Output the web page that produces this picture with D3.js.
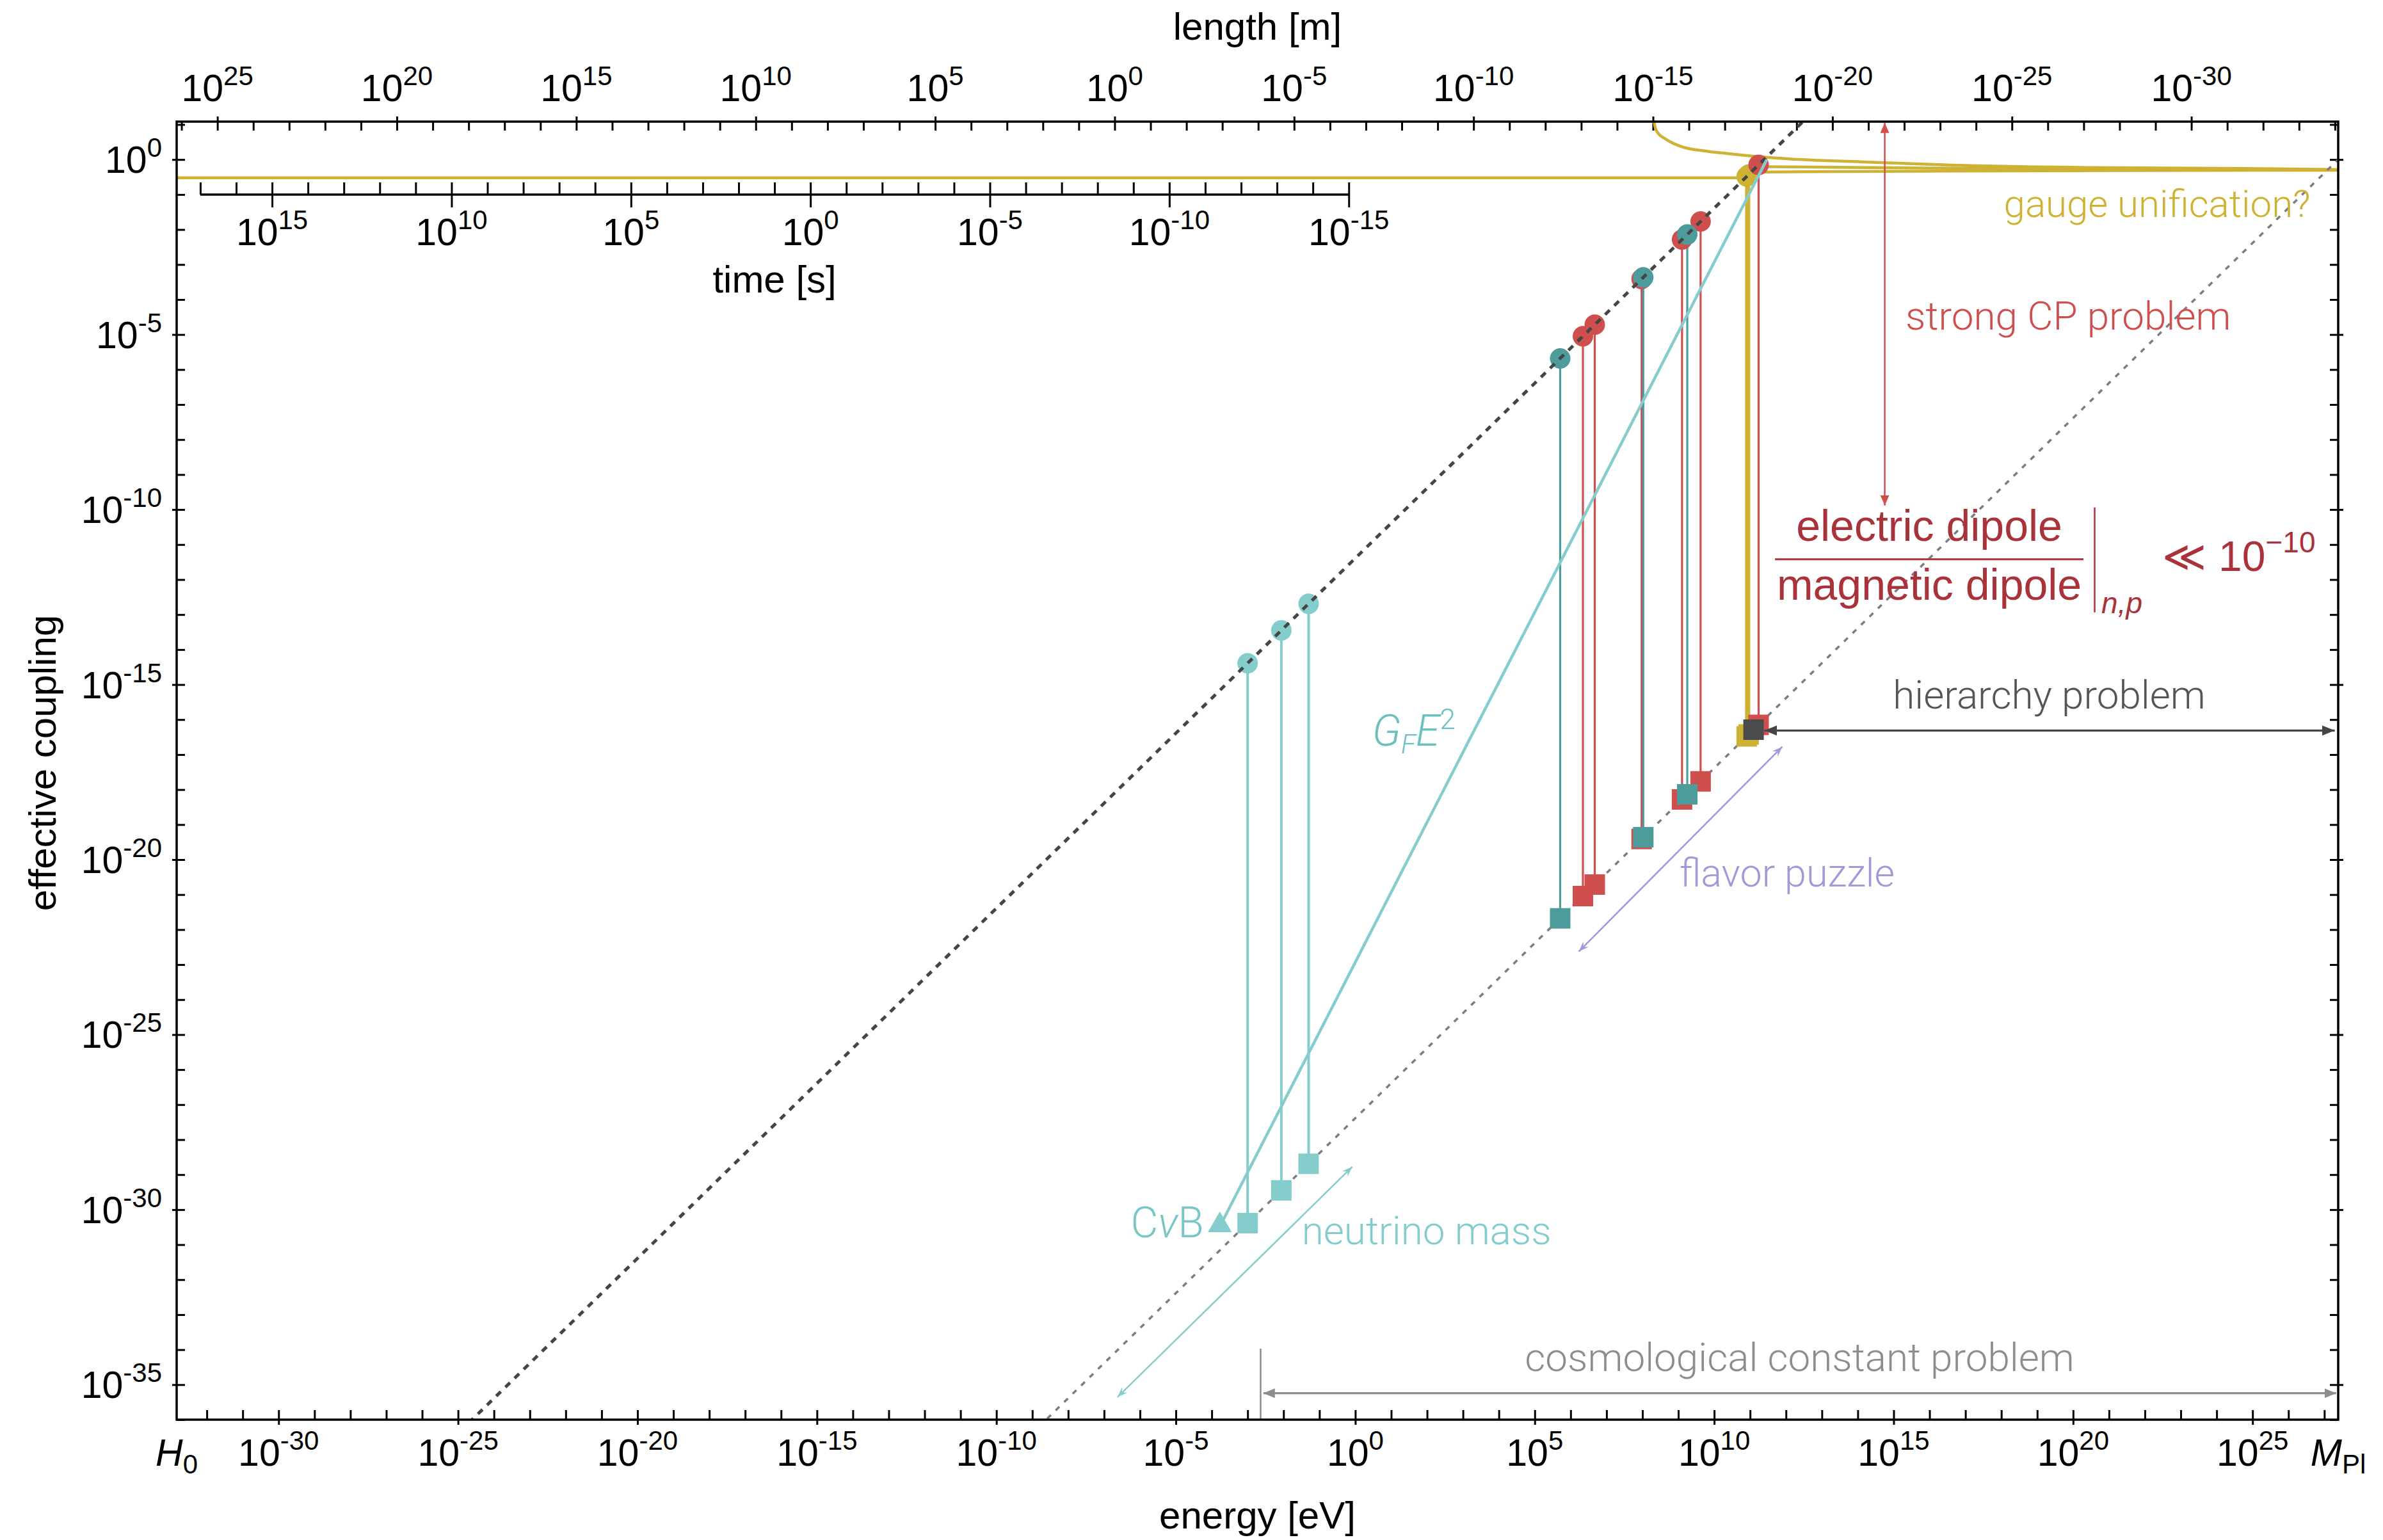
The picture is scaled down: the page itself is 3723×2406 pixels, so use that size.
<!DOCTYPE html>
<html>
<head>
<meta charset="utf-8">
<script src="https://cdn.jsdelivr.net/npm/d3@7"></script>
<style>
  html, body { margin: 0; padding: 0; background: #fff; }
  svg { display: block; }
</style>
</head>
<body>
<svg id="chart" width="3723" height="2406"></svg>
<script>
// ---------- physical constants (eV units) ----------
const HBARC = 1.97327e-7;      // eV·m
const HBAR = 6.58212e-16;      // eV·s
const E_MIN = 1.445e-33;       // H0 [eV]
const E_MAX = 2.435e27;        // reduced Planck mass [eV]
const G_MIN = 1e-36;
const G_MAX = 12.1;

// ---------- particles ----------
const particleNames  = ["W", "Z", "t", "u", "d", "s", "c", "b", "e", "μ", "τ", "ν1", "ν2", "ν3", "H"];
const particleGroups = ["boson", "boson", "quark", "quark", "quark", "quark", "quark", "quark",
                        "lepton", "lepton", "lepton", "neutrino", "neutrino", "neutrino", "higgs"];
const particleMasses = [8.04e10, 9.12e10, 1.727e11, 2.2e6, 4.7e6, 9.5e7, 1.27e9, 4.18e9,
                        5.11e5, 1.057e8, 1.777e9, 1.0e-3, 8.7e-3, 5.0e-2, 1.25e11];
// coupling at the electroweak scale (m / v) and at the Planck scale (m / M_Pl)
const electroweakCouplings = [0.327, 0.371, 0.702, 8.94e-6, 1.91e-5, 3.86e-4, 5.16e-3, 1.70e-2,
                              2.08e-6, 4.30e-4, 7.22e-3, 4.07e-15, 3.54e-14, 2.03e-13, null];
const planckCouplings = [3.30e-17, 3.75e-17, 7.09e-17, 9.03e-22, 1.93e-21, 3.90e-20, 5.22e-19, 1.72e-18,
                         2.10e-22, 4.34e-20, 7.30e-19, 4.11e-31, 3.57e-30, 2.05e-29, 5.13e-17];

// ---------- gauge couplings [energy eV, coupling] ----------
const couplingEM = [[1.445e-33, 0.30], [8.5e10, 0.30]];
const couplingStrong = [[2.09e8, 13.2], [2.24e8, 8.67], [2.64e8, 5.93], [4.32e8, 3.90], [1.36e9, 2.25],
                        [5.75e9, 1.75], [2.42e10, 1.48], [4.28e11, 1.12], [1.40e14, 0.855],
                        [4.39e16, 0.693], [2.49e20, 0.593], [1.41e24, 0.562], [2.435e27, 0.516]];
const couplingWeak = [[9.12e10, 0.63], [5.4e15, 0.574], [1.2e21, 0.538], [2.435e27, 0.506]];
const couplingHypercharge = [[9.12e10, 0.436], [5.4e15, 0.465], [1.2e21, 0.485], [2.435e27, 0.495]];

// reference lines: m / v and m / M_Pl
const vevLine = [[1e-27, 4.07e-39], [1e15, 4.07e3]];
const planckLine = [[1e-10, 4.1e-38], [2.435e27, 1.0]];
// Fermi interaction strength G_F E^2, from the neutrino background temperature up to G_F^{-1/2}
const fermiLine = [[1.68e-4, 3.3e-31], [2.93e11, 1.0]];
const cnuB = [1.68e-4, 3.3e-31];

// ---------- tick labels (exponents) ----------
const energyTickExps   = [-30, -25, -20, -15, -10, -5, 0, 5, 10, 15, 20, 25];
const lengthTickExps   = [25, 20, 15, 10, 5, 0, -5, -10, -15, -20, -25, -30];
const timeTickExps     = [15, 10, 5, 0, -5, -10, -15];
const couplingTickExps = [0, -5, -10, -15, -20, -25, -30, -35];

// ---------- layout ----------
const plot = { left: 276, right: 3653, top: 190, bottom: 2218 };
const timeAxisY = 304;
const AXIS_FONT = "'Liberation Sans', Arial, Helvetica, 'DejaVu Sans', sans-serif";
const NOTE_FONT = "Roboto, 'Open Sans', Lato, 'Liberation Sans', sans-serif";
const TICK_FS = 59;
const SUP_FS = 42;

const COLORS = {
  gold: "#cdb234", quark: "#cf4f4f", lepton: "#4e9b9b", neutrino: "#85cdcd",
  higgs: "#4b4b4b", lavender: "#a399d9", gray: "#8d8d8d", edm: "#a9323b",
  dark: "#454545", grayLine: "#7d7d7d"
};
const groupColor = g => ({ boson: COLORS.gold, quark: COLORS.quark, lepton: COLORS.lepton,
                           neutrino: COLORS.neutrino, higgs: COLORS.higgs })[g];

// ---------- scales ----------
const x = d3.scaleLog().domain([E_MIN, E_MAX]).range([plot.left, plot.right]);
const y = d3.scaleLog().domain([G_MIN, G_MAX]).range([plot.bottom, plot.top]);
const xLen = d3.scaleLog().domain([HBARC / E_MIN, HBARC / E_MAX]).range([plot.left, plot.right]);
const xTime = d3.scaleLog().domain([HBAR / E_MIN, HBAR / E_MAX]).range([plot.left, plot.right]);

const decades = (a, b) => d3.range(a, b + 1).map(k => Math.pow(10, k));
const pow10 = k => Math.pow(10, k);

const svg = d3.select("#chart");
const defs = svg.append("defs");
defs.append("clipPath").attr("id", "plotClip").append("rect")
  .attr("x", plot.left).attr("y", plot.top)
  .attr("width", plot.right - plot.left).attr("height", plot.bottom - plot.top);

function marker(id, color, len, half, concave) {
  defs.append("marker").attr("id", id)
    .attr("viewBox", `0 0 ${len} ${2 * half}`)
    .attr("refX", len).attr("refY", half)
    .attr("markerWidth", len).attr("markerHeight", 2 * half)
    .attr("markerUnits", "userSpaceOnUse")
    .attr("orient", "auto-start-reverse")
    .append("path")
    .attr("d", concave
      ? `M0,0 L${len},${half} L0,${2 * half} L${len * 0.35},${half} Z`
      : `M0,0 L${len},${half} L0,${2 * half} Z`)
    .attr("fill", color);
}
marker("arrRed", COLORS.quark, 16, 7, false);
marker("arrDark", COLORS.dark, 20, 8, false);
marker("arrGray", COLORS.gray, 18, 7.5, false);
marker("arrLav", COLORS.lavender, 16, 6, true);
marker("arrCyan", COLORS.neutrino, 16, 6, true);

// ---------- axes ticks ----------
function ticks(axisFn, scale, values, size, transform) {
  const g = svg.append("g").attr("transform", transform)
    .call(axisFn(scale).tickValues(values).tickSize(size).tickFormat(""));
  g.select(".domain").remove();
  g.selectAll(".tick line").attr("stroke", "#000").attr("stroke-width", 3);
  g.selectAll(".tick text").remove();
  return g;
}
const energyDecades = decades(-32, 27);
const couplingDecades = decades(-36, 1);
const lengthDecades = decades(-34, 26);
const timeDecades = decades(-15, 17);

ticks(d3.axisBottom, x, energyDecades, -15, `translate(0,${plot.bottom})`);
ticks(d3.axisBottom, x, energyTickExps.map(pow10), 8, `translate(0,${plot.bottom})`);
ticks(d3.axisTop, xLen, lengthDecades, -14, `translate(0,${plot.top})`);
ticks(d3.axisTop, xLen, lengthTickExps.map(pow10), 8, `translate(0,${plot.top})`);
ticks(d3.axisLeft, y, couplingDecades, -13, `translate(${plot.left},0)`);
ticks(d3.axisLeft, y, couplingTickExps.map(pow10), 7, `translate(${plot.left},0)`);
ticks(d3.axisRight, y, couplingDecades, -13, `translate(${plot.right},0)`);
ticks(d3.axisRight, y, couplingTickExps.map(pow10), 8, `translate(${plot.right},0)`);

// inner time axis
svg.append("line")
  .attr("x1", xTime(1e17)).attr("x2", xTime(1e-15))
  .attr("y1", timeAxisY).attr("y2", timeAxisY)
  .attr("stroke", "#000").attr("stroke-width", 3.5);
ticks(d3.axisTop, xTime, timeDecades, 19, `translate(0,${timeAxisY})`);
ticks(d3.axisBottom, xTime, timeTickExps.map(pow10), 20, `translate(0,${timeAxisY})`);

// ---------- tick labels ----------
function powLabel(px, py, exp, anchor) {
  const t = svg.append("text").attr("x", px).attr("y", py)
    .attr("text-anchor", anchor).attr("font-family", AXIS_FONT)
    .attr("font-size", TICK_FS).attr("fill", "#000");
  t.append("tspan").text("10");
  t.append("tspan").attr("dy", -25).attr("font-size", SUP_FS)
    .text(exp < 0 ? "-" + (-exp) : String(exp));
}
energyTickExps.forEach(k => powLabel(x(pow10(k)), 2290, k, "middle"));
lengthTickExps.forEach(k => powLabel(xLen(pow10(k)), 158, k, "middle"));
timeTickExps.forEach(k => powLabel(xTime(pow10(k)), 383, k, "middle"));
couplingTickExps.forEach(k => powLabel(253, y(pow10(k)) + 21, k, "end"));

// H0 and M_Pl at the ends of the energy axis
{
  const h = svg.append("text").attr("x", x(E_MIN)).attr("y", 2290).attr("text-anchor", "middle")
    .attr("font-family", AXIS_FONT).attr("font-size", TICK_FS);
  h.append("tspan").attr("font-style", "italic").text("H");
  h.append("tspan").attr("dy", 12).attr("font-size", SUP_FS).text("0");
  const m = svg.append("text").attr("x", x(E_MAX)).attr("y", 2290).attr("text-anchor", "middle")
    .attr("font-family", AXIS_FONT).attr("font-size", TICK_FS);
  m.append("tspan").attr("font-style", "italic").text("M");
  m.append("tspan").attr("dy", 12).attr("font-size", SUP_FS).text("Pl");
}

// axis titles
function title(txt, px, py, rotate) {
  const t = svg.append("text").attr("text-anchor", "middle")
    .attr("font-family", AXIS_FONT).attr("font-size", 60).attr("fill", "#000").text(txt);
  if (rotate) t.attr("transform", `translate(${px},${py}) rotate(-90)`);
  else t.attr("x", px).attr("y", py);
}
const midX = (plot.left + plot.right) / 2;
title("length [m]", midX, 62);
title("energy [eV]", midX, 2388);
title("time [s]", (xTime(1e17) + xTime(1e-15)) / 2, 457);
title("effective coupling", 87, 1192, true);

// ---------- plot content ----------
const body = svg.append("g").attr("clip-path", "url(#plotClip)");
const line = d3.line().x(d => x(d[0])).y(d => y(d[1]));
const smooth = d3.line().x(d => x(d[0])).y(d => y(d[1])).curve(d3.curveMonotoneX);

// gauge couplings
[couplingEM, couplingHypercharge, couplingWeak, couplingStrong].forEach(c => {
  body.append("path").attr("d", smooth(c)).attr("fill", "none")
    .attr("stroke", COLORS.gold).attr("stroke-width", 4.5);
});

// m / M_Pl reference line
body.append("path").attr("d", line(planckLine)).attr("fill", "none")
  .attr("stroke", COLORS.grayLine).attr("stroke-width", 3.5).attr("stroke-dasharray", "8 10.5");

const particles = particleNames.map((n, i) => ({
  name: n, group: particleGroups[i], mass: particleMasses[i],
  gv: electroweakCouplings[i], gp: planckCouplings[i]
}));
const stemWidth = g => g === "boson" ? 5 : (g === "neutrino" ? 4 : 3.2);

// stems from the electroweak value down to the Planck value
body.selectAll(".stem").data(particles.filter(p => p.gv !== null)).join("line")
  .attr("class", "stem")
  .attr("x1", p => x(p.mass)).attr("x2", p => x(p.mass))
  .attr("y1", p => y(p.gv)).attr("y2", p => y(p.gp))
  .attr("stroke", p => groupColor(p.group)).attr("stroke-width", p => stemWidth(p.group));

// squares at m / M_Pl
const squareSym = d3.symbol().type(d3.symbolSquare).size(32 * 32);
body.selectAll(".sq").data(particles).join("path")
  .attr("class", "sq")
  .attr("transform", p => `translate(${x(p.mass)},${y(p.gp)})`)
  .attr("d", squareSym).attr("fill", p => groupColor(p.group));

// circles at m / v
body.selectAll(".dot").data(particles.filter(p => p.gv !== null)).join("circle")
  .attr("class", "dot")
  .attr("cx", p => x(p.mass)).attr("cy", p => y(p.gv)).attr("r", 16)
  .attr("fill", p => groupColor(p.group));

// m / v reference line
body.append("path").attr("d", line(vevLine)).attr("fill", "none")
  .attr("stroke", COLORS.dark).attr("stroke-width", 5).attr("stroke-dasharray", "10 10");

// G_F E^2
body.append("path").attr("d", line(fermiLine)).attr("fill", "none")
  .attr("stroke", COLORS.neutrino).attr("stroke-width", 4.5);
body.append("path")
  .attr("transform", `translate(${x(cnuB[0])},${y(cnuB[1]) - 2})`)
  .attr("d", d3.symbol().type(d3.symbolTriangle).size(600)).attr("fill", COLORS.neutrino);

// ---------- annotation arrows ----------
function arrow(p1, p2, color, width, mk, both = true) {
  const l = svg.append("line")
    .attr("x1", x(p1[0])).attr("y1", y(p1[1]))
    .attr("x2", x(p2[0])).attr("y2", y(p2[1]))
    .attr("stroke", color).attr("stroke-width", width)
    .attr("marker-end", `url(#${mk})`);
  if (both) l.attr("marker-start", `url(#${mk})`);
}
// strong CP
arrow([5.65e14, 11.2], [5.65e14, 1.3e-10], COLORS.quark, 2.5, "arrRed");
// hierarchy problem
arrow([2.5e11, 4.86e-17], [1.95e27, 4.86e-17], COLORS.dark, 3.2, "arrDark");
// flavor puzzle
arrow([1.69e6, 2.37e-23], [7.9e11, 1.68e-17], COLORS.lavender, 2.6, "arrLav");
// neutrino mass
arrow([2.36e-7, 4.4e-36], [0.824, 1.68e-29], COLORS.neutrino, 2.6, "arrCyan");
// cosmological constant
svg.append("line")
  .attr("x1", x(2.3e-3)).attr("x2", x(2.3e-3))
  .attr("y1", y(1.07e-34)).attr("y2", plot.bottom)
  .attr("stroke", COLORS.gray).attr("stroke-width", 2.5);
arrow([2.74e-3, 5.7e-36], [2.14e27, 5.7e-36], COLORS.gray, 3.2, "arrGray");

// ---------- annotation texts ----------
function note(txt, E, g, anchor, color, size) {
  return svg.append("text").attr("x", x(E)).attr("y", y(g)).attr("text-anchor", anchor)
    .attr("font-family", NOTE_FONT).attr("font-weight", 300)
    .attr("font-size", size).attr("fill", color).text(txt);
}
note("gauge unification?", 4.07e26, 0.0226, "end", COLORS.gold, 60);
note("strong CP problem", 2.15e15, 1.39e-5, "start", COLORS.quark, 62);
note("hierarchy problem", 2.16e19, 2.07e-16, "middle", "#555555", 62);
note("flavor puzzle", 1.09e9, 1.71e-21, "start", COLORS.lavender, 61);
note("neutrino mass", 0.0322, 1.03e-31, "start", COLORS.neutrino, 62);
note("cosmological constant problem", 2.4e12, 2.5e-35, "middle", COLORS.gray, 62);

// CνB
{
  const t = note("", 6.0e-5, 1.66e-31, "end", "#78c6c6", 66);
  t.append("tspan").text("C");
  t.append("tspan").attr("font-style", "italic").text("ν");
  t.append("tspan").text("B");
}
// G_F E^2
{
  const t = note("", 2.94, 1.81e-17, "start", "#6cc0c0", 68);
  t.append("tspan").attr("font-style", "italic").text("G");
  t.append("tspan").attr("font-style", "italic").attr("font-size", 42).attr("dy", 12).text("F");
  t.append("tspan").attr("font-style", "italic").attr("dy", -12).text("E");
  t.append("tspan").attr("font-size", 44).attr("dy", -26).text("2");
}

// EDM ratio bound
{
  const g = svg.append("g")
    .attr("transform", `translate(${x(9.8e15)},${y(3.8e-12)})`)
    .attr("fill", COLORS.edm).attr("font-family", AXIS_FONT);
  g.append("text").attr("x", 0).attr("y", -29).attr("text-anchor", "middle")
    .attr("font-size", 68).text("electric dipole");
  g.append("line").attr("x1", -241).attr("x2", 241).attr("y1", 0).attr("y2", 0)
    .attr("stroke", COLORS.edm).attr("stroke-width", 3);
  g.append("text").attr("x", 0).attr("y", 63).attr("text-anchor", "middle")
    .attr("font-size", 68).text("magnetic dipole");
  g.append("line").attr("x1", 258.5).attr("x2", 258.5).attr("y1", -81).attr("y2", 83)
    .attr("stroke", COLORS.edm).attr("stroke-width", 2.5);
  g.append("text").attr("x", 269).attr("y", 84).attr("font-size", 46)
    .attr("font-style", "italic").text("n,p");
  g.append("text").attr("x", 364).attr("y", 18).attr("font-size", 66)
    .attr("font-family", "'DejaVu Sans', sans-serif").text("≪");
  const t = g.append("text").attr("x", 452).attr("y", 18).attr("font-size", 66);
  t.append("tspan").text("10");
  t.append("tspan").attr("dy", -29).attr("font-size", 46).text("−10");
}

// frame
svg.append("rect")
  .attr("x", plot.left).attr("y", plot.top)
  .attr("width", plot.right - plot.left).attr("height", plot.bottom - plot.top)
  .attr("fill", "none").attr("stroke", "#000").attr("stroke-width", 3.5);
</script>
</body>
</html>
